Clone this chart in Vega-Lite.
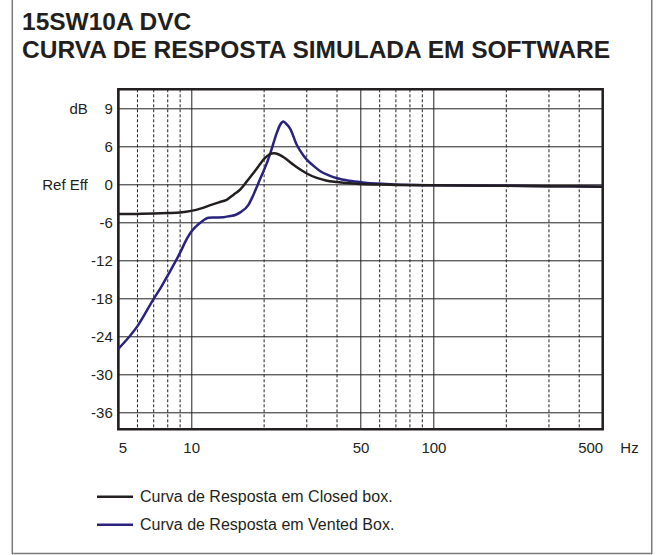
{
  "$schema": "https://vega.github.io/schema/vega-lite/v6.json",
  "width": 484.4,
  "height": 340,
  "autosize": "none",
  "padding": {"left": 118.3, "top": 89.3, "right": 54.3, "bottom": 125.7},
  "background": "white",
  "config": {
    "view": {"stroke": "#231f20", "strokeWidth": 2.5},
    "font": "Liberation Sans"
  },
  "title": {
    "text": ["15SW10A DVC", "CURVA DE RESPOSTA SIMULADA EM SOFTWARE"],
    "anchor": "start",
    "frame": "group",
    "orient": "top",
    "offset": -65,
    "dx": -96.3,
    "fontSize": 24.5,
    "fontWeight": "bold",
    "color": "#231f20",
    "lineHeight": 27.5,
    "font": "Liberation Sans"
  },
  "datasets": {
    "minor": [
      {"f": 6}, {"f": 7}, {"f": 8}, {"f": 9}, {"f": 20}, {"f": 30}, {"f": 40},
      {"f": 60}, {"f": 70}, {"f": 80}, {"f": 90}, {"f": 200}, {"f": 300}, {"f": 400}
    ],
    "curves": [
      {"s": "Curva de Resposta em Vented Box.", "f": 5, "db": -26.0},
      {"s": "Curva de Resposta em Vented Box.", "f": 6, "db": -22.4},
      {"s": "Curva de Resposta em Vented Box.", "f": 7, "db": -18.1},
      {"s": "Curva de Resposta em Vented Box.", "f": 7.5, "db": -16.3},
      {"s": "Curva de Resposta em Vented Box.", "f": 8, "db": -14.4},
      {"s": "Curva de Resposta em Vented Box.", "f": 9, "db": -10.8},
      {"s": "Curva de Resposta em Vented Box.", "f": 9.6, "db": -8.6},
      {"s": "Curva de Resposta em Vented Box.", "f": 10, "db": -7.5},
      {"s": "Curva de Resposta em Vented Box.", "f": 10.5, "db": -6.6},
      {"s": "Curva de Resposta em Vented Box.", "f": 11, "db": -5.95},
      {"s": "Curva de Resposta em Vented Box.", "f": 11.8, "db": -5.3},
      {"s": "Curva de Resposta em Vented Box.", "f": 12.5, "db": -5.25},
      {"s": "Curva de Resposta em Vented Box.", "f": 13.6, "db": -5.2},
      {"s": "Curva de Resposta em Vented Box.", "f": 14.5, "db": -5.0},
      {"s": "Curva de Resposta em Vented Box.", "f": 15.2, "db": -4.85},
      {"s": "Curva de Resposta em Vented Box.", "f": 16, "db": -4.4},
      {"s": "Curva de Resposta em Vented Box.", "f": 17.2, "db": -3.3},
      {"s": "Curva de Resposta em Vented Box.", "f": 18, "db": -1.8},
      {"s": "Curva de Resposta em Vented Box.", "f": 18.9, "db": 0.1},
      {"s": "Curva de Resposta em Vented Box.", "f": 20, "db": 2.3},
      {"s": "Curva de Resposta em Vented Box.", "f": 20.5, "db": 3.3},
      {"s": "Curva de Resposta em Vented Box.", "f": 21.5, "db": 5.6},
      {"s": "Curva de Resposta em Vented Box.", "f": 22.5, "db": 8.0},
      {"s": "Curva de Resposta em Vented Box.", "f": 23.3, "db": 9.4},
      {"s": "Curva de Resposta em Vented Box.", "f": 24, "db": 9.9},
      {"s": "Curva de Resposta em Vented Box.", "f": 24.6, "db": 9.6},
      {"s": "Curva de Resposta em Vented Box.", "f": 25.6, "db": 8.8},
      {"s": "Curva de Resposta em Vented Box.", "f": 27.3, "db": 6.2},
      {"s": "Curva de Resposta em Vented Box.", "f": 29, "db": 4.6},
      {"s": "Curva de Resposta em Vented Box.", "f": 30, "db": 3.9},
      {"s": "Curva de Resposta em Vented Box.", "f": 32, "db": 2.9},
      {"s": "Curva de Resposta em Vented Box.", "f": 34, "db": 2.1},
      {"s": "Curva de Resposta em Vented Box.", "f": 37, "db": 1.4},
      {"s": "Curva de Resposta em Vented Box.", "f": 40, "db": 0.95},
      {"s": "Curva de Resposta em Vented Box.", "f": 45, "db": 0.55},
      {"s": "Curva de Resposta em Vented Box.", "f": 51, "db": 0.3},
      {"s": "Curva de Resposta em Vented Box.", "f": 58, "db": 0.12},
      {"s": "Curva de Resposta em Vented Box.", "f": 64, "db": 0.05},
      {"s": "Curva de Resposta em Vented Box.", "f": 70, "db": -0.05},
      {"s": "Curva de Resposta em Vented Box.", "f": 100, "db": -0.16},
      {"s": "Curva de Resposta em Vented Box.", "f": 200, "db": -0.25},
      {"s": "Curva de Resposta em Vented Box.", "f": 300, "db": -0.3},
      {"s": "Curva de Resposta em Vented Box.", "f": 500, "db": -0.38},
      {"s": "Curva de Resposta em Closed box.", "f": 5, "db": -4.7},
      {"s": "Curva de Resposta em Closed box.", "f": 6, "db": -4.68},
      {"s": "Curva de Resposta em Closed box.", "f": 7, "db": -4.63},
      {"s": "Curva de Resposta em Closed box.", "f": 8, "db": -4.55},
      {"s": "Curva de Resposta em Closed box.", "f": 9, "db": -4.45},
      {"s": "Curva de Resposta em Closed box.", "f": 10, "db": -4.2},
      {"s": "Curva de Resposta em Closed box.", "f": 11, "db": -3.8},
      {"s": "Curva de Resposta em Closed box.", "f": 12, "db": -3.3},
      {"s": "Curva de Resposta em Closed box.", "f": 13, "db": -2.85},
      {"s": "Curva de Resposta em Closed box.", "f": 14, "db": -2.45},
      {"s": "Curva de Resposta em Closed box.", "f": 15, "db": -1.6},
      {"s": "Curva de Resposta em Closed box.", "f": 16, "db": -0.75},
      {"s": "Curva de Resposta em Closed box.", "f": 17, "db": 0.5},
      {"s": "Curva de Resposta em Closed box.", "f": 18, "db": 1.7},
      {"s": "Curva de Resposta em Closed box.", "f": 19, "db": 2.9},
      {"s": "Curva de Resposta em Closed box.", "f": 20, "db": 4.0},
      {"s": "Curva de Resposta em Closed box.", "f": 21, "db": 4.7},
      {"s": "Curva de Resposta em Closed box.", "f": 22, "db": 4.9},
      {"s": "Curva de Resposta em Closed box.", "f": 23, "db": 4.7},
      {"s": "Curva de Resposta em Closed box.", "f": 24, "db": 4.3},
      {"s": "Curva de Resposta em Closed box.", "f": 26, "db": 3.3},
      {"s": "Curva de Resposta em Closed box.", "f": 28, "db": 2.4},
      {"s": "Curva de Resposta em Closed box.", "f": 30, "db": 1.7},
      {"s": "Curva de Resposta em Closed box.", "f": 33, "db": 1.0},
      {"s": "Curva de Resposta em Closed box.", "f": 36, "db": 0.6},
      {"s": "Curva de Resposta em Closed box.", "f": 40, "db": 0.35},
      {"s": "Curva de Resposta em Closed box.", "f": 45, "db": 0.15},
      {"s": "Curva de Resposta em Closed box.", "f": 50, "db": 0.05},
      {"s": "Curva de Resposta em Closed box.", "f": 60, "db": -0.05},
      {"s": "Curva de Resposta em Closed box.", "f": 70, "db": -0.1},
      {"s": "Curva de Resposta em Closed box.", "f": 100, "db": -0.16},
      {"s": "Curva de Resposta em Closed box.", "f": 200, "db": -0.25},
      {"s": "Curva de Resposta em Closed box.", "f": 300, "db": -0.3},
      {"s": "Curva de Resposta em Closed box.", "f": 500, "db": -0.38}
    ]
  },
  "layer": [
    {
      "data": {"name": "minor"},
      "mark": {"type": "rule", "color": "#231f20", "strokeWidth": 1, "strokeDash": [3, 2]},
      "encoding": {
        "x": {"field": "f", "type": "quantitative"}
      }
    },
    {
      "data": {"name": "curves"},
      "mark": {"type": "line", "strokeWidth": 2.5, "interpolate": "monotone"},
      "encoding": {
        "x": {
          "field": "f", "type": "quantitative",
          "scale": {"type": "log", "domain": [5, 500], "nice": false},
          "axis": {
            "orient": "bottom",
            "values": [5, 10, 50, 100, 500],
            "format": "d",
            "grid": true, "gridColor": "#231f20", "gridWidth": 1, "gridOpacity": 1,
            "domain": false, "ticks": false,
            "labelPadding": 11,
            "labelFontSize": 15, "labelColor": "#231f20", "labelFont": "Liberation Sans",
            "labelFlush": true, "labelOverlap": false,
            "title": "Hz", "titleX": 510.7, "titleY": 11, "titleAlign": "center",
            "titleBaseline": "top", "titleFontSize": 15, "titleFontWeight": "normal",
            "titleColor": "#231f20", "titleFont": "Liberation Sans"
          }
        },
        "y": {
          "field": "db", "type": "quantitative",
          "scale": {"domain": [-38.7, 15], "nice": false, "zero": false},
          "axis": {
            "orient": "left",
            "values": [-36, -33, -30, -27, -24, -21, -18, -15, -12, -9, -6, -3, 0, 3, 6, 9, 12],
            "labelExpr": "datum.value == 12 ? 'dB\u00a0\u00a0\u00a0\u00a09' : datum.value == 0 ? 'Ref Eff\u00a0\u00a0\u00a0\u00a00' : (datum.value % 6 == 0 && datum.value < 9) ? '' + datum.value : ''",
            "grid": true, "gridColor": "#231f20", "gridWidth": 1, "gridOpacity": 1,
            "domain": false, "ticks": false,
            "labelPadding": 6, "labelFontSize": 15, "labelColor": "#231f20",
            "labelFont": "Liberation Sans", "labelOverlap": false, "labelFlush": false,
            "title": null
          }
        },
        "color": {
          "field": "s", "type": "nominal",
          "scale": {
            "domain": ["Curva de Resposta em Closed box.", "Curva de Resposta em Vented Box."],
            "range": ["#231f20", "#29237f"]
          },
          "legend": {
            "orient": "none", "legendX": -22.8, "legendY": 388,
            "title": null,
            "symbolType": "stroke", "symbolSize": 1296, "symbolStrokeWidth": 2.5,
            "labelFontSize": 16, "labelColor": "#231f20", "labelFont": "Liberation Sans",
            "labelOffset": 5.5, "rowPadding": 0, "labelLimit": 400
          }
        }
      }
    },
    {
      "data": {"values": [{"frame": "outer"}]},
      "mark": {"type": "rect", "fillOpacity": 0, "stroke": "#7a7a7a", "strokeWidth": 1.5},
      "encoding": {
        "x": {"datum": 1.825, "type": "quantitative"},
        "x2": {"datum": 797},
        "y": {"datum": -58.3, "type": "quantitative"},
        "y2": {"datum": 29.3}
      }
    }
  ]
}
